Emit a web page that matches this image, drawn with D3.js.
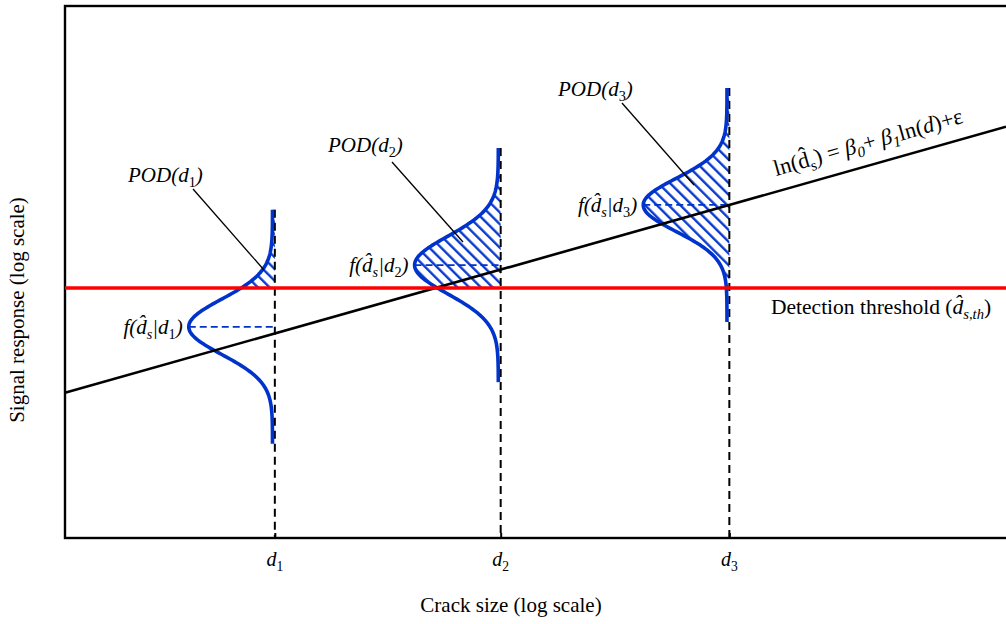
<!DOCTYPE html>
<html>
<head>
<meta charset="utf-8">
<script src="https://cdn.jsdelivr.net/npm/d3@7"></script>
<style>
  body { margin: 0; background: #fff; }
  text { font-family: "Liberation Serif", "Times New Roman", serif; fill: #000; }
</style>
</head>
<body>
<div id="chart"></div>
<script>
// ----------------
// POD schematic: signal response vs crack size (both log scale)
// ----------------

// crack sizes d1..d3 (x units) and the response distribution at each
const crackLabels = ["1", "2", "3"];
const crackSizes = [22.3, 46.3, 70.6];
const responseMeans = [39.7, 51.3, 62.6];
const responseSigmas = [5.2, 5.4, 5.0];
// detection threshold and regression ln(a) = b0 + b1 ln(d)
const thresholdValue = [47.0];
const regressionCoefs = [27.3, 0.5];

const width = 1006, height = 624;
const blue = "#0033cc";

const svg = d3.select("#chart")
    .append("svg")
    .attr("width", width)
    .attr("height", height);

const x = d3.scaleLinear().domain([0, 100]).range([65, 1006]);
const y = d3.scaleLinear().domain([0, 100]).range([538, 6]);

// hatch pattern for the POD area
svg.append("defs")
    .append("pattern")
    .attr("id", "hatch")
    .attr("patternUnits", "userSpaceOnUse")
    .attr("width", 8.3)
    .attr("height", 8.3)
    .attr("patternTransform", "rotate(-45)")
    .append("line")
    .attr("x1", 4).attr("y1", -1)
    .attr("x2", 4).attr("y2", 9.3)
    .attr("stroke", blue)
    .attr("stroke-width", 2.3);

// frame (right side runs off the page)
svg.append("rect")
    .attr("x", x(0))
    .attr("y", y(100))
    .attr("width", 1000)
    .attr("height", y(0) - y(100))
    .attr("fill", "none")
    .attr("stroke", "#000")
    .attr("stroke-width", 2.4);

// x axis ticks at d1, d2, d3
const xAxis = svg.append("g")
    .attr("transform", `translate(0,${y(0)})`)
    .call(d3.axisBottom(x).tickValues(crackSizes).tickSize(-5).tickFormat(""));
xAxis.select(".domain").remove();
xAxis.selectAll("line").attr("stroke-width", 2);

const spread = 22;   // half height of each drawn density
const amp = 8.9;     // density width in x units
const offsets = d3.range(-spread, spread + 0.001, 0.25);

const curves = crackSizes.map((d, i) => {
    const m = responseMeans[i], s = responseSigmas[i];
    const base = d - 0.25;
    return offsets.map(o => [base - amp * Math.exp(-(o * o) / (2 * s * s)), m + o]);
});

const line = d3.line().x(p => x(p[0])).y(p => y(p[1]));

// hatched region: between density and d, above threshold
crackSizes.forEach((d, i) => {
    const pts = curves[i].filter(p => p[1] >= thresholdValue[0]);
    const poly = [[d, thresholdValue[0]], [pts[0][0], thresholdValue[0]]]
        .concat(pts)
        .concat([[d, responseMeans[i] + spread]]);
    svg.append("path")
        .attr("d", line(poly) + "Z")
        .attr("fill", "url(#hatch)")
        .attr("stroke", "none");
});

// vertical dashed lines at each crack size
svg.append("g")
    .selectAll("line")
    .data(crackSizes)
    .join("line")
    .attr("x1", d => x(d))
    .attr("x2", d => x(d))
    .attr("y1", (d, i) => y(responseMeans[i] + spread))
    .attr("y2", y(0))
    .attr("stroke", "#000")
    .attr("stroke-width", 2)
    .attr("stroke-dasharray", "8,5");

// dashed lines at the mean response
svg.append("g")
    .selectAll("line")
    .data(crackSizes)
    .join("line")
    .attr("x1", d => x(d - 0.25 - amp))
    .attr("x2", d => x(d))
    .attr("y1", (d, i) => y(responseMeans[i]))
    .attr("y2", (d, i) => y(responseMeans[i]))
    .attr("stroke", blue)
    .attr("stroke-width", 1.8)
    .attr("stroke-dasharray", "7,4");

// density curves
svg.append("g")
    .selectAll("path")
    .data(curves)
    .join("path")
    .attr("d", line)
    .attr("fill", "none")
    .attr("stroke", blue)
    .attr("stroke-width", 3.6);

// regression line
svg.append("line")
    .attr("x1", x(0))
    .attr("y1", y(regressionCoefs[0]))
    .attr("x2", x(100))
    .attr("y2", y(regressionCoefs[0] + regressionCoefs[1] * 100))
    .attr("stroke", "#000")
    .attr("stroke-width", 2.6);

// detection threshold
svg.append("line")
    .attr("x1", x(0))
    .attr("x2", x(100))
    .attr("y1", y(thresholdValue[0]))
    .attr("y2", y(thresholdValue[0]))
    .attr("stroke", "#ff0000")
    .attr("stroke-width", 3.6);

// rich text helper: parts = [text, italic?, sub?]
function rich(sel, parts) {
    let down = false;
    parts.forEach(p => {
        const t = sel.append("tspan").text(p[0]);
        if (p[1]) t.attr("font-style", "italic");
        if (p[2] && !down) { t.attr("dy", 5); down = true; }
        else if (!p[2] && down) { t.attr("dy", -5); down = false; }
        if (p[2]) t.attr("font-size", "0.68em");
    });
    return sel;
}

// POD labels and leader lines
const podLayout = [
    { tx: 128, ty: 182, lx1: 193, ly1: 189, lx2: 264, ly2: 270 },
    { tx: 328, ty: 152, lx1: 392, ly1: 162, lx2: 463, ly2: 242 },
    { tx: 558, ty: 96, lx1: 622, ly1: 103, lx2: 694, ly2: 185 }
];
crackLabels.forEach((lab, i) => {
    const L = podLayout[i];
    rich(svg.append("text").attr("x", L.tx).attr("y", L.ty).attr("font-size", 21),
        [["POD(d", true], [lab, false, true], [")", true]]);
    svg.append("line")
        .attr("x1", L.lx1).attr("y1", L.ly1)
        .attr("x2", L.lx2).attr("y2", L.ly2)
        .attr("stroke", "#000")
        .attr("stroke-width", 1.3);
});

// density labels f(d^s|di)
crackLabels.forEach((lab, i) => {
    const px = x(crackSizes[i] - 0.25 - amp) - 6;
    const py = y(responseMeans[i]) + 7;
    rich(svg.append("text").attr("x", px).attr("y", py).attr("font-size", 21).attr("text-anchor", "end"),
        [["f(d\u0302", true], ["s", true, true], ["|d", true], [lab, false, true], [")", true]]);
});

// regression equation along the line
const eqX = 776, eqY = 176;
rich(svg.append("text")
        .attr("transform", `translate(${eqX},${eqY}) rotate(-15.8)`)
        .attr("font-size", 22.5),
    [["ln(d\u0302", false], ["s", false, true], [") = ", false], ["\u03b2", true], ["0", true, true],
     ["+ ", false], ["\u03b2", true], ["1", true, true], ["ln(", false], ["d", true], [")+\u03b5", false]]);

// threshold label
rich(svg.append("text").attr("x", 771).attr("y", 314).attr("font-size", 21.5),
    [["Detection threshold (", false], ["d\u0302", true], ["s,th", true, true], [")", false]]);

// x tick labels
crackLabels.forEach((lab, i) => {
    rich(svg.append("text").attr("x", x(crackSizes[i])).attr("y", 566)
            .attr("font-size", 20).attr("text-anchor", "middle"),
        [["d", true], [lab, false, true]]);
});

// axis titles
svg.append("text")
    .attr("x", 511)
    .attr("y", 612)
    .attr("font-size", 21)
    .attr("text-anchor", "middle")
    .text("Crack size (log scale)");

svg.append("text")
    .attr("transform", "translate(24,310) rotate(-90)")
    .attr("font-size", 21)
    .attr("text-anchor", "middle")
    .text("Signal response (log scale)");
</script>
</body>
</html>
